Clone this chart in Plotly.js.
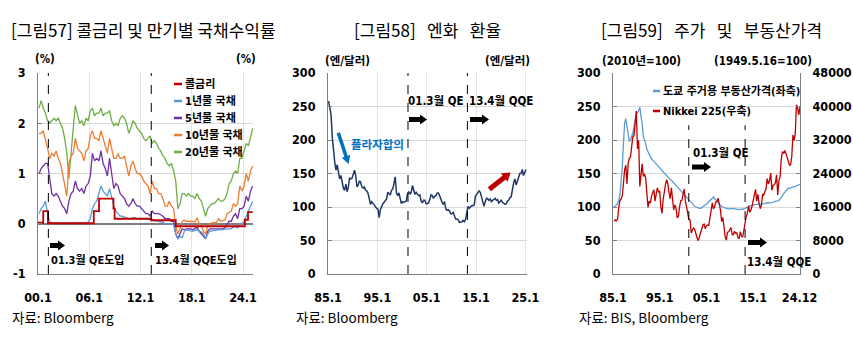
<!DOCTYPE html>
<html><head><meta charset="utf-8">
<script src="https://cdn.plot.ly/plotly-3.0.1.min.js"></script>
<style>html,body{margin:0;padding:0;background:#fff;} #chart{width:853px;height:353px;}</style>
</head><body><div id="chart"></div>
<script>
// ---------- Panel 1 : call rate & JGB yields (quarterly, 2000Q1 - 2025Q1) ----------
const p1Start = 2000;
const jgb20 = [2.30,2.45,2.30,2.20, 2.05,2.00,2.05,2.10, 2.05,2.10,2.00,1.90, 1.70,1.40,0.90,1.50,
  1.90,2.35,2.20,2.00, 2.05,1.95,2.10,2.05, 2.25,2.30,2.15,2.20, 2.20,2.30,2.15,2.20,
  2.20,2.25,2.05,1.95, 2.00,1.95,2.10,2.15, 2.10,2.00,1.80,1.90, 2.05,2.00,1.90,1.85,
  1.80,1.70,1.65,1.70, 1.75,1.60,1.65,1.60, 1.50,1.45,1.35,1.30, 1.20,1.15,1.20,1.05,
  0.85,0.30,0.40,0.60, 0.60,0.55,0.60,0.55, 0.55,0.50,0.60,0.50, 0.45,0.30,0.15,0.30,
  0.35,0.40,0.40,0.45, 0.50,0.45,0.45,0.50, 0.60,0.80,0.85,1.00, 1.05,1.00,1.30,1.30,
  1.45,1.60,1.55,1.75, 1.90];
const jgb10 = [1.80,1.80,1.85,1.70, 1.50,1.30,1.40,1.35, 1.45,1.30,1.20,1.00, 0.80,0.55,1.20,1.35,
  1.40,1.70,1.50,1.45, 1.40,1.25,1.45,1.50, 1.75,1.85,1.70,1.70, 1.65,1.85,1.70,1.50,
  1.40,1.70,1.50,1.30, 1.30,1.40,1.30,1.30, 1.35,1.15,0.95,1.15, 1.25,1.10,1.00,1.00,
  0.95,0.85,0.80,0.75, 0.60,0.85,0.70,0.70, 0.60,0.60,0.50,0.35, 0.35,0.45,0.35,0.30,
  -0.05,-0.20,-0.10,0.05, 0.07,0.05,0.05,0.05, 0.05,0.04,0.12,0.00, -0.05,-0.15,-0.20,-0.05,
  0.00,0.02,0.02,0.02, 0.10,0.05,0.06,0.07, 0.20,0.23,0.25,0.40, 0.35,0.40,0.75,0.65,
  0.75,1.00,0.85,1.05, 1.15];
const jgb5 = [1.00,1.10,1.15,1.20, 1.20,0.85,0.60,0.55, 0.60,0.55,0.45,0.35, 0.30,0.20,0.45,0.60,
  0.65,0.85,0.70,0.65, 0.70,0.60,0.75,0.80, 0.95,1.40,1.25,1.30, 1.25,1.45,1.20,1.10,
  0.95,1.30,1.00,0.70, 0.80,0.75,0.60,0.55, 0.50,0.40,0.35,0.40, 0.50,0.40,0.35,0.35,
  0.30,0.25,0.20,0.20, 0.15,0.25,0.20,0.20, 0.20,0.18,0.15,0.10, 0.10,0.10,0.05,0.05,
  -0.20,-0.30,-0.20,-0.10, -0.12,-0.10,-0.10,-0.10, -0.12,-0.10,-0.07,-0.15, -0.20,-0.25,-0.30,-0.15,
  -0.10,-0.10,-0.10,-0.10, -0.10,-0.10,-0.10,-0.08, 0.00,0.05,0.05,0.15, 0.20,0.10,0.30,0.30,
  0.35,0.55,0.45,0.65, 0.75];
const jgb1 = [0.20,0.30,0.35,0.45, 0.20,0.03,0.02,0.01, 0.01,0.01,0.02,0.01, 0.01,0.01,0.02,0.02,
  0.01,0.02,0.02,0.01, 0.01,0.02,0.02,0.03, 0.10,0.30,0.40,0.45, 0.60,0.75,0.65,0.60,
  0.55,0.70,0.50,0.35, 0.25,0.20,0.15,0.15, 0.13,0.12,0.10,0.10, 0.12,0.12,0.10,0.10,
  0.10,0.10,0.10,0.10, 0.08,0.08,0.06,0.05, 0.05,0.04,0.03,0.00, 0.00,0.00,0.00,-0.02,
  -0.20,-0.30,-0.25,-0.28, -0.15,-0.12,-0.13,-0.15, -0.15,-0.13,-0.12,-0.15, -0.16,-0.20,-0.30,-0.20,
  -0.15,-0.14,-0.13,-0.13, -0.12,-0.12,-0.12,-0.11, -0.10,-0.10,-0.10,-0.06, -0.06,-0.08,0.00,0.00,
  0.05,0.15,0.25,0.35, 0.45];
const callDates = ['2000-01-01','2000-08-11','2001-03-01','2006-07-14','2007-02-21','2008-10-31','2008-12-19','2013-04-04','2016-02-16','2024-03-19','2024-07-31','2025-02-15'];
const callRate  = [0.02, 0.25, 0.01, 0.25, 0.50, 0.30, 0.10, 0.07, -0.05, 0.08, 0.23, 0.23];
const p1Names = ['콜금리','1년물 국채','5년물 국채','10년물 국채','20년물 국채'];
const p1Ticks = ['2000-01-01','2006-01-01','2012-01-01','2018-01-01','2024-01-01'];
const p1TickText = ['00.1','06.1','12.1','18.1','24.1'];

// ---------- Panel 2 : JPY per USD (quarterly, 1985Q1 - 2025Q1) ----------
const p2Start = 1985;
const yen = [258,250,238,204, 182,167,155,163, 152,142,147,135, 128,125,134,123, 130,143,142,143,
  150,155,147,130, 133,139,137,130, 128,130,125,124, 120,110,104,108, 105,102,100,98,
  97,84,96,101, 105,107,109,112, 122,119,118,125, 127,135,145,121, 117,121,112,105,
  108,107,108,109, 120,123,119,122, 132,126,119,122, 119,117,118,109, 106,110,110,105,
  105,106,111,118, 117,113,116,117, 121,121,117,111, 107,104,108,97, 95,96,94,90,
  90,92,86,82, 82,81,77,77, 78,80,78,81, 93,101,98,100, 102,102,103,116,
  119,120,124,122, 114,109,101,108, 113,112,110,112, 108,110,111,113, 110,111,106,109,
  110,107,106,104, 105,109,110,114, 115,128,136,142, 133,138,145,150, 150,156,147,153,
  156];
const p2Ticks = ['1985-01-01','1995-01-01','2005-01-01','2015-01-01','2025-01-01'];
const p2TickText = ['85.1','95.1','05.1','15.1','25.1'];

// ---------- Panel 3 : Tokyo house prices & Nikkei 225 (quarter ends, 1985Q1 - 2024Q4) ----------
const p3Start = 1985;
const tokyoHouse = [100,101,103,106, 110,118,135,160, 195,225,232,220, 205,198,200,205, 210,220,232,240,
  240,246,249,235, 225,205,200,195, 186,182,178,175, 172,170,168,166, 164,162,160,158,
  156,154,152,150, 148,146,145,143, 141,140,138,136, 134,132,130,128, 126,124,122,120,
  118,116,114,112, 110,108,106,104, 102,101,100,99, 99,98,98,99, 100,101,102,104,
  106,108,110,112, 114,115,113,110, 108,106,104,102, 101,100,99,99, 98,98,97,97,
  98,98,98,97, 97,97,96,96, 96,97,97,97, 98,99,100,101, 101,102,102,103,
  103,104,104,104, 105,105,104,104, 105,105,106,106, 106,106,106,107, 107,108,108,109,
  109,110,112,115, 117,120,122,124, 126,128,128,129, 129,130,130,131, 131,132,133,134];
const nikkei = [12600,12900,12700,13100, 15900,17600,17900,18700, 21600,24900,26000,21500, 26300,27700,27900,30100,
  32800,33000,35600,38900, 29900,31900,20900,23800, 26300,23300,23900,22900, 19300,15900,17400,16900,
  18600,19600,20100,17400, 19100,20600,19600,19700, 16100,14500,17900,19900, 21400,22500,21500,19300,
  18000,20600,17900,15300, 16500,15800,13400,13800, 16000,17500,17600,18900, 20300,17400,15700,13800,
  13000,12900,9800,10500, 11000,10600,9400,8600, 7970,9080,10200,10700, 11700,11900,10800,11500,
  11700,11600,13600,16100, 17000,15500,16100,17200, 17300,18100,16800,15300, 12500,13500,11300,8860,
  8100,9960,10100,10500, 11100,9380,9370,10200, 9750,9820,8700,8450, 10100,9000,8870,10400,
  12400,13700,14500,16300, 14800,15200,16200,17500, 19200,20200,17400,19000, 17000,15600,16400,19100,
  18900,20000,20400,22800, 21500,22300,24100,20000, 21200,21300,21800,23700, 18900,22300,23200,27400,
  29200,28800,29500,28800, 27800,26400,26000,26100, 28000,33200,31900,33500, 40400,39600,38000,39900];
const p3Names = ['도쿄 주거용 부동산가격(좌축)','Nikkei 225(우축)'];
const p3Ticks = ['1985-01-01','1995-01-01','2005-01-01','2015-01-01','2024-12-01'];
const p3TickText = ['85.1','95.1','05.1','15.1','24.12'];

const qeDates = ['2001-03-19','2013-04-04'];

// ---------- helpers ----------
const W = 853, H = 353;
const px = x => x / W, py = y => 1 - y / H;
function quarterDates(start, n, months, day) {
  const out = [];
  for (let i = 0; i < n; i++) {
    const y = start + Math.floor(i / 4), m = months[i % 4];
    out.push(y + '-' + String(m).padStart(2, '0') + '-' + day);
  }
  return out;
}
const midQ = [2, 5, 8, 11], endQ = [3, 6, 9, 12];
function arrowPath(x1, y1, x2, y2, sw, hw, hl) {
  const dx = x2 - x1, dy = y2 - y1, L = Math.hypot(dx, dy), ux = dx / L, uy = dy / L, nx = -uy, ny = ux;
  const bx = x2 - ux * hl, by = y2 - uy * hl;
  const pts = [[x1 + nx * sw / 2, y1 + ny * sw / 2], [bx + nx * sw / 2, by + ny * sw / 2], [bx + nx * hw / 2, by + ny * hw / 2],
    [x2, y2], [bx - nx * hw / 2, by - ny * hw / 2], [bx - nx * sw / 2, by - ny * sw / 2], [x1 - nx * sw / 2, y1 - ny * sw / 2]];
  return 'M' + pts.map(p => px(p[0]).toFixed(5) + ',' + py(p[1]).toFixed(5)).join('L') + 'Z';
}
const NARROW = '"Liberation Sans Narrow", "Arial Narrow", "DejaVu Sans Condensed", "Noto Sans CJK KR", sans-serif';
const KR = '"Noto Sans CJK KR", sans-serif';
const tickFont = {family: NARROW, size: 12.5, color: '#000', weight: 'bold'};
const AX = '#7f7f7f';
const SP = '\u00a0';

const c = {call: '#c00000', y1: '#5b9bd5', y5: '#7030a0', y10: '#ed7d31', y20: '#70ad47', yen: '#1f3864', house: '#5b9bd5', nk: '#c00000'};

// ---------- traces ----------
const d1 = quarterDates(p1Start, jgb20.length, midQ, '15');
const d2 = quarterDates(p2Start, yen.length, midQ, '15');
const d3 = quarterDates(p3Start, nikkei.length, endQ, '28');
const lw = 1.3;
const traces = [
  {x: d1, y: jgb20, name: p1Names[4], xaxis: 'x', yaxis: 'y', mode: 'lines', line: {color: c.y20, width: lw}},
  {x: d1, y: jgb10, name: p1Names[3], xaxis: 'x', yaxis: 'y', mode: 'lines', line: {color: c.y10, width: lw}},
  {x: d1, y: jgb5, name: p1Names[2], xaxis: 'x', yaxis: 'y', mode: 'lines', line: {color: c.y5, width: lw}},
  {x: d1, y: jgb1, name: p1Names[1], xaxis: 'x', yaxis: 'y', mode: 'lines', line: {color: c.y1, width: lw}},
  {x: callDates, y: callRate, name: p1Names[0], xaxis: 'x', yaxis: 'y', mode: 'lines', line: {color: c.call, width: 1.8, shape: 'hv'}},
  {x: d2, y: yen, name: '엔/달러', xaxis: 'x2', yaxis: 'y3', mode: 'lines', line: {color: c.yen, width: 1.5}},
  {x: d3, y: tokyoHouse, name: p3Names[0], xaxis: 'x3', yaxis: 'y5', mode: 'lines', line: {color: c.house, width: lw}},
  {x: d3, y: nikkei, name: p3Names[1], xaxis: 'x3', yaxis: 'y6', mode: 'lines', line: {color: c.nk, width: lw}}
];

// ---------- axes ----------
const yDom = [py(274), py(73)];
function xAxis(dom, range, ticks, text, grid) {
  return {domain: dom, type: 'date', range: range, tickvals: ticks, ticktext: text, tickfont: tickFont,
    showline: true, linecolor: AX, linewidth: 1, ticks: '', showgrid: grid, gridcolor: '#e4e4e4', zeroline: false,
    ticklabelstandoff: 12, fixedrange: true};
}
function yAxis(anchor, range, vals, side, overlay, grid) {
  const a = {domain: yDom, anchor: anchor, range: range, tickvals: vals, ticktext: vals.map(String), tickfont: tickFont,
    showline: true, linecolor: AX, linewidth: 1, ticks: 'inside', ticklen: 4, tickcolor: AX,
    showgrid: grid, gridcolor: '#d9d9d9', zeroline: false, ticklabelstandoff: 9, fixedrange: true};
  if (side) a.side = side;
  if (overlay) a.overlaying = overlay;
  return a;
}

const p1Y = [-1, 0, 1, 2, 3];
const p2Y = [0, 50, 100, 150, 200, 250, 300];
const p3YR = [0, 8000, 16000, 24000, 32000, 40000, 48000];

const layout = {
  width: W, height: H, margin: {l: 0, r: 0, t: 0, b: 0}, paper_bgcolor: '#fff', plot_bgcolor: 'rgba(0,0,0,0)',
  showlegend: false,
  xaxis: xAxis([px(38), px(253)], ['2000-01-01', '2025-03-01'], p1Ticks, p1TickText, true),
  xaxis2: xAxis([px(328), px(527)], ['1985-01-01', '2025-05-01'], p2Ticks, p2TickText, true),
  xaxis3: xAxis([px(613), px(800)], ['1985-01-01', '2024-12-31'], p3Ticks, p3TickText, false),
  yaxis: Object.assign(yAxis('x', [-1, 3], p1Y, null, null, true), {zeroline: true, zerolinecolor: '#808080', zerolinewidth: 1.5}),
  yaxis2: yAxis('x', [-1, 3], p1Y, 'right', 'y', false),
  yaxis3: yAxis('x2', [0, 300], p2Y, null, null, true),
  yaxis4: yAxis('x2', [0, 300], p2Y, 'right', 'y3', false),
  yaxis5: yAxis('x3', [0, 300], p2Y, null, null, true),
  yaxis6: yAxis('x3', [0, 48000], p3YR, 'right', 'y5', false),
  shapes: [], annotations: []
};

// dashed QE lines
qeDates.forEach(d => {
  layout.shapes.push({type: 'line', xref: 'x', yref: 'y domain', x0: d, x1: d, y0: 0, y1: 1, line: {color: '#000', width: 1, dash: 'dash'}});
  layout.shapes.push({type: 'line', xref: 'x2', yref: 'y3 domain', x0: d, x1: d, y0: 0, y1: 1, line: {color: '#000', width: 1, dash: 'dash'}});
  layout.shapes.push({type: 'line', xref: 'x3', yref: 'y5', x0: d, x1: d, y0: 0, y1: 222, line: {color: '#000', width: 1, dash: 'dash'}});
});

// block arrows
function addArrow(x1, y1, x2, y2, sw, hw, hl, col) {
  layout.shapes.push({type: 'path', xref: 'paper', yref: 'paper', path: arrowPath(x1, y1, x2, y2, sw, hw, hl), fillcolor: col, line: {width: 0}});
}
[[50, 245.5, 65], [155, 245.5, 169], [409, 119.5, 427], [470, 119.5, 489], [692, 167, 711], [748, 242.5, 767]]
  .forEach(a => addArrow(a[0], a[1], a[2], a[1], 5, 10, 7, '#000'));
addArrow(338.3, 132.7, 348.5, 164, 3.5, 9, 8, '#0070c0');
addArrow(489.3, 189.3, 510.5, 172.5, 5, 11, 8, '#c00000');

// annotations
function ann(text, x, y, o) {
  o = o || {};
  layout.annotations.push({text: text, xref: 'paper', yref: 'paper', x: px(x), y: py(y), showarrow: false,
    xanchor: o.xa || 'left', yanchor: 'middle',
    font: {family: o.family || NARROW, size: o.size || 12, color: o.color || '#000', weight: o.weight || 'bold'}});
}
// titles
ann('[그림57] 콜금리 및 만기별 국채수익률', 143.5, 30, {xa: 'center', family: KR, size: 17, weight: 'normal'});
ann('[그림58]' + SP + SP + SP + '엔화' + SP + SP + SP + '환율', 427.5, 30, {xa: 'center', family: KR, size: 17, weight: 'normal'});
ann('[그림59]' + SP + SP + SP + '주가' + SP + SP + SP + '및' + SP + SP + SP + '부동산가격', 711, 30, {xa: 'center', family: KR, size: 17, weight: 'normal'});
// units
ann('(%)', 44.5, 59, {xa: 'center', size: 11.5});
ann('(%)', 245.5, 59, {xa: 'center', size: 11.5});
ann('(엔/달러)', 347, 61, {xa: 'center', size: 11.5});
ann('(엔/달러)', 507.5, 61, {xa: 'center', size: 11.5});
ann('(2010년=100)', 641.5, 61, {xa: 'center', size: 11.5});
ann('(1949.5.16=100)', 762.5, 61, {xa: 'center', size: 11.5});
// sources
ann('자료: Bloomberg', 10, 317, {family: KR, size: 13.5, weight: 'normal'});
ann('자료: Bloomberg', 294, 317, {family: KR, size: 13.5, weight: 'normal'});
ann('자료: BIS, Bloomberg', 577, 317, {family: KR, size: 13.5, weight: 'normal'});
// QE notes
ann('01.3월 QE도입', 49, 260, {size: 11});
ann('13.4월 QQE도입', 153, 260, {size: 11});
ann('01.3월 QE', 406, 101, {size: 11.5});
ann('13.4월 QQE', 467, 101, {size: 11.5});
ann('01.3월 QE', 691, 152.5, {size: 11.5});
ann('13.4월 QQE', 745, 261.5, {size: 11.5});
ann('플라자합의', 349, 145, {size: 11.5, color: '#0070c0'});

// manual legends
const p1Cols = [c.call, c.y1, c.y5, c.y10, c.y20];
p1Names.forEach((n, i) => {
  const y = 84 + 17 * i;
  layout.shapes.push({type: 'line', xref: 'paper', yref: 'paper', x0: px(174), x1: px(182), y0: py(y), y1: py(y), line: {color: p1Cols[i], width: 2.5}});
  ann(n, 183, y, {size: 11});
});
[c.house, c.nk].forEach((col, i) => {
  const y = 91 + 20 * i;
  layout.shapes.push({type: 'line', xref: 'paper', yref: 'paper', x0: px(653), x1: px(660), y0: py(y), y1: py(y), line: {color: col, width: 2.5}});
  ann(p3Names[i], 661, y, {size: 11});
});

Plotly.newPlot('chart', traces, layout, {staticPlot: true, displayModeBar: false});
</script></body></html>
